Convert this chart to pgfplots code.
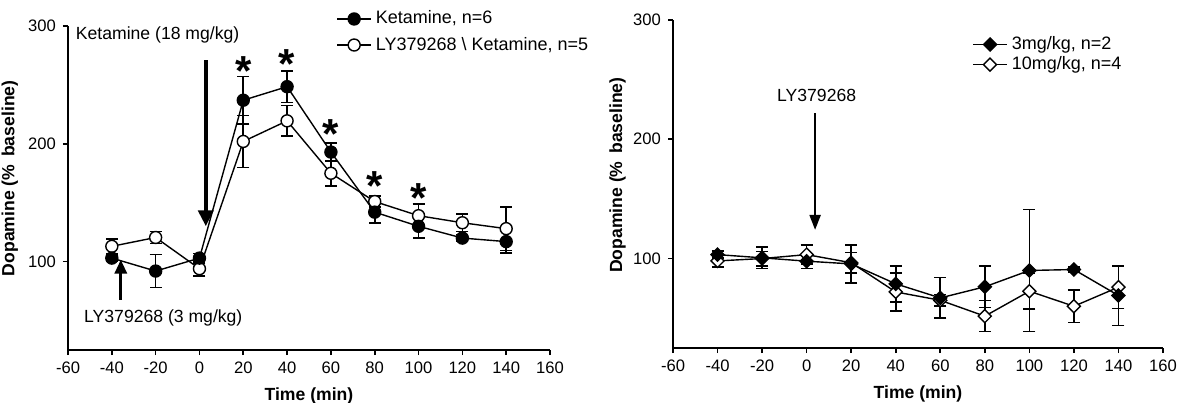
\documentclass[border=0pt]{standalone}
\usepackage{fontspec}
\setmainfont{Liberation Sans}
\usepackage{pgfplots}
\pgfplotsset{compat=1.18}
\usetikzlibrary{arrows.meta}

\pgfplotsset{
  dopa/.style={
    scale only axis,
    axis lines*=left,
    xmin=-60, xmax=160, ymin=25, ymax=300,
    xtick={-60,-40,...,160}, ytick={100,200,300},
    tick align=outside, major tick length=2.5pt,
    tick style={black, line width=0.8pt},
    axis line style={line width=0.9pt},
    ticklabel style={font=\fontsize{8.3}{9}\selectfont},
    /pgf/number format/assume math mode=true,
    xlabel={Time (min)}, ylabel={Dopamine (\% \,baseline)},
    label style={font=\fontsize{8.8}{10}\selectfont\bfseries},
    xlabel style={at={(axis description cs:0.5,-0.095)}, anchor=north},
    clip=false,
    legend cell align=left,
    legend style={draw=none, fill=none, font=\fontsize{9}{10}\selectfont, inner sep=0pt},
  },
  ser/.style={black, line width=0.7pt, mark size=3pt,
    error bars/y dir=both, error bars/y explicit,
    error bars/error mark options={rotate=90, mark size=3pt, line width=0.8pt},
    error bars/error bar style={line width=0.8pt}},
  dia/.style={mark=square*, mark size=2.3pt},
}

\begin{document}
\begin{tikzpicture}
\useasboundingbox (0,0) rectangle (591pt,201pt);

% left panel
\begin{axis}[dopa, at={(34pt,26pt)}, anchor=south west,
  width=241pt, height=162pt,
  ylabel style={at={(axis description cs:-0.089,0.53)}, anchor=south},
  legend style={at={(rel axis cs:0.556,1.06)}, anchor=north west, row sep=1pt}]
\addplot[ser, mark=*, mark options={fill=white, solid}, forget plot] coordinates {
  (-40,113) +- (0,6)
  (-20,120.5) +- (0,5)
  (0,94) +- (0,6)
  (20,202) +- (0,22)
  (40,219.5) +- (0,13)
  (60,175) +- (0,11)
  (80,151) +- (0,4.5)
  (100,139) +- (0,10)
  (120,133) +- (0,7.5)
  (140,128) +- (0,18.5)
};
\addplot[ser, mark=*, forget plot] coordinates {
  (-40,103) +- (0,3)
  (-20,92) +- (0,14)
  (0,103) +- (0,4)
  (20,237) +- (0,20)
  (40,248.5) +- (0,13.5)
  (60,193) +- (0,7.5)
  (80,142) +- (0,9)
  (100,130) +- (0,10)
  (120,120) +- (0,3)
  (140,117) +- (0,9.5)
};
\addplot[draw=none, mark=none, forget plot,
  nodes near coords={\bfseries *},
  every node near coord/.append style={font=\fontsize{21}{21}\selectfont, anchor=center, yshift=-4.4pt}]
  coordinates {(20,269.5) (40,275) (60,216) (80,171.5) (100,161.6)};
\addlegendimage{black, line width=0.7pt, mark=*, mark size=3pt}
\addlegendentry{Ketamine, n=6}
\addlegendimage{black, line width=0.7pt, mark=*, mark size=3pt, mark options={fill=white}}
\addlegendentry{LY379268 \textbackslash{} Ketamine, n=5}
\node[font=\fontsize{8.8}{10}\selectfont] at (axis cs:-19.1,292.4) {Ketamine (18 mg/kg)};
\draw[line width=2pt, -{Triangle[width=7.5pt, length=8pt]}] (axis cs:2.9,271) -- (axis cs:2.9,130);
\node[font=\fontsize{8.8}{10}\selectfont] at (axis cs:-16.5,52.5) {LY379268 (3 mg/kg)};
\draw[line width=1.6pt, -{Triangle[width=6pt, length=7pt]}] (axis cs:-35.9,67.8) -- (axis cs:-35.9,101.7);
\end{axis}

% right panel
\begin{axis}[dopa, at={(336.5pt,27pt)}, anchor=south west,
  width=245pt, height=164pt,
  ylabel style={at={(axis description cs:-0.082,0.527)}, anchor=south},
  legend style={at={(rel axis cs:0.61,0.963)}, anchor=north west, row sep=-2pt}]
\addplot[ser, dia, mark options={rotate=45, fill=white, solid}, forget plot] coordinates {
  (-40,98) +- (0,5)
  (-20,100) +- (0,6)
  (0,103.3) +- (0,8)
  (20,96.5) +- (0,8.5)
  (40,72) +- (0,16)
  (60,65) +- (0,5)
  (80,51.7) +- (0,13)
  (100,72.6) +- (0,15)
  (120,60) +- (0,13.5)
  (140,76) +- (0,18)
};
\addplot[ser, dia, mark options={rotate=45, solid}, forget plot] coordinates {
  (-40,103.3) +- (0,3)
  (-20,100.6) +- (0,9)
  (0,97.8) +- (0,6)
  (20,95.5) +- (0,16)
  (40,78.8) +- (0,15)
  (60,67) +- (0,17)
  (80,76.3) +- (0,17.5)
  (100,90) +- (0,51)
  (120,90.8) +- (0,2)
  (140,69) +- (0,25)
};
\addlegendimage{black, line width=0.7pt, dia, mark options={rotate=45}}
\addlegendentry{3mg/kg, n=2}
\addlegendimage{black, line width=0.7pt, dia, mark options={rotate=45, fill=white}}
\addlegendentry{10mg/kg, n=4}
\node[font=\fontsize{8.8}{10}\selectfont] at (axis cs:4.5,237) {LY379268};
\draw[line width=1.1pt, -{Triangle[width=5.5pt, length=7.5pt]}] (axis cs:3.8,222) -- (axis cs:3.8,124);
\end{axis}
\end{tikzpicture}
\end{document}
